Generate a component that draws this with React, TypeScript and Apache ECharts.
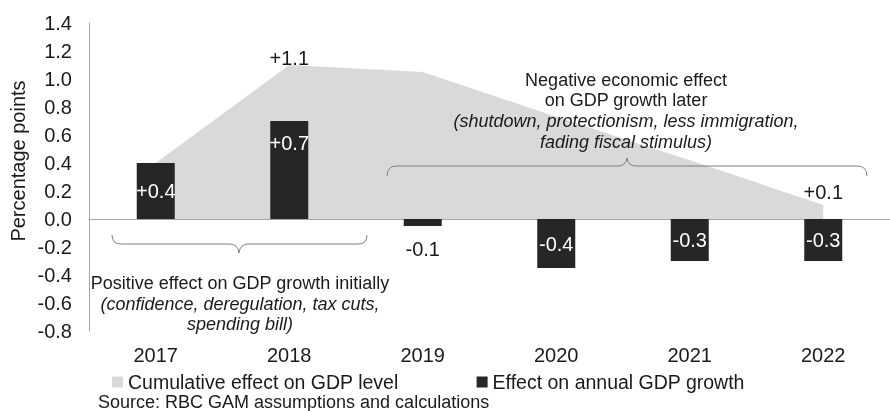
import React, { useEffect, useRef } from 'react';
import * as echarts from 'echarts';

const years = ['2017', '2018', '2019', '2020', '2021', '2022'];
const cumulativeEffect = [0.4, 1.1, 1.05, 0.73, 0.42, 0.1];
const cumulativeLabels = ['', '+1.1', '', '', '', '+0.1'];
const annualEffect = [0.4, 0.7, -0.05, -0.35, -0.3, -0.3];
const annualLabels = ['+0.4', '+0.7', '-0.1', '-0.4', '-0.3', '-0.3'];
const yMin = -0.8;
const yMax = 1.4;
const yStep = 0.2;

const FONT = '"Liberation Sans", Arial, sans-serif';
const TXT = '#1a1a1a';

const leftBraceD =
  'M112,235 Q112,244 121,244 L230,244 Q238,244 239,253 Q240,244 248,244 L358,244 Q367,244 367,235';
const rightBraceD =
  'M387,176 Q387,166 397,166 L618,166 Q626,166 627,158 Q628,166 636,166 L857,166 Q867,166 867,176';

let registered = false;
function registerShapes() {
  if (registered) return;
  echarts.graphic.registerShape('leftBrace', echarts.graphic.extendPath(leftBraceD, {}) as any);
  echarts.graphic.registerShape('rightBrace', echarts.graphic.extendPath(rightBraceD, {}) as any);
  registered = true;
}

export default function App() {
  const ref = useRef<HTMLDivElement>(null);
  useEffect(() => {
    if (!ref.current) return;
    registerShapes();
    const chart = echarts.init(ref.current, undefined, { renderer: 'svg' });

    const barPos: any[] = ['inside', 'insideTop', 'bottom', 'inside', 'inside', 'inside'];
    const barDist = [5, 12, 13, 5, 5, 5];
    const barColor = ['#fff', '#fff', TXT, '#fff', '#fff', '#fff'];
    const areaLabelDist = [0, -3, 0, 0, 0, 3];

    const textEl = (t: string, x: number, y: number, italic = false, size = 18) => ({
      type: 'text',
      x,
      y,
      z: 100,
      silent: true,
      style: {
        text: t,
        fill: TXT,
        font: `${italic ? 'italic ' : ''}${size}px ${FONT}`,
        textAlign: 'center',
        textVerticalAlign: 'middle',
      },
    });

    chart.setOption({
      animation: false,
      textStyle: { fontFamily: FONT, color: TXT },
      grid: { left: 89, top: 23, bottom: 80, width: 810, containLabel: false },
      legend: {
        left: 107,
        top: 367,
        itemWidth: 11,
        itemHeight: 11,
        itemGap: 78,
        icon: 'rect',
        textStyle: { fontSize: 19.5, color: TXT, fontFamily: FONT },
        data: [
          { name: 'Cumulative effect on GDP level', itemStyle: { color: '#d9d9d9' } },
          { name: 'Effect on annual GDP growth', itemStyle: { color: '#262626' } },
        ],
      },
      xAxis: [
        {
          type: 'category',
          data: years,
          axisLine: { onZero: true, lineStyle: { color: '#a6a6a6', width: 1 } },
          axisTick: { show: false },
          axisLabel: { show: false },
        },
        {
          type: 'category',
          data: years,
          position: 'bottom',
          axisLine: { show: false, onZero: false },
          axisTick: { show: false },
          axisLabel: { show: true, fontSize: 20, color: TXT, margin: 14, fontFamily: FONT },
        },
      ],
      yAxis: {
        type: 'value',
        min: yMin,
        max: yMax,
        interval: yStep,
        splitLine: { show: false },
        axisLine: { show: true, lineStyle: { color: '#a6a6a6', width: 1 } },
        axisTick: { show: false },
        axisLabel: {
          fontSize: 20,
          color: TXT,
          margin: 17,
          fontFamily: FONT,
          formatter: (v: number) => v.toFixed(1),
        },
      },
      series: [
        {
          name: 'Cumulative effect on GDP level',
          type: 'line',
          xAxisIndex: 0,
          data: cumulativeEffect.map((v, i) => ({
            value: v,
            label: {
              show: cumulativeLabels[i] !== '',
              position: 'top',
              distance: areaLabelDist[i],
              formatter: () => cumulativeLabels[i],
              fontSize: 20,
              color: TXT,
              fontFamily: FONT,
            },
          })),
          symbol: 'circle',
          symbolSize: 1,
          showSymbol: true,
          lineStyle: { width: 0, color: '#d9d9d9' },
          itemStyle: { color: 'rgba(0,0,0,0)' },
          areaStyle: { color: '#d9d9d9', opacity: 1 },
          z: 1,
        },
        {
          name: 'Effect on annual GDP growth',
          type: 'bar',
          xAxisIndex: 0,
          barWidth: 38,
          itemStyle: { color: '#262626' },
          data: annualEffect.map((v, i) => ({
            value: v,
            label: {
              show: true,
              position: barPos[i],
              distance: barDist[i],
              formatter: () => annualLabels[i],
              fontSize: 20,
              color: barColor[i],
              fontFamily: FONT,
            },
          })),
          z: 3,
        },
      ],
      graphic: [
        {
          type: 'text',
          x: 18,
          y: 161,
          z: 100,
          rotation: Math.PI / 2,
          silent: true,
          style: {
            text: 'Percentage points',
            fill: TXT,
            font: `20px ${FONT}`,
            textAlign: 'center',
            textVerticalAlign: 'middle',
          },
        },
        { type: 'leftBrace', z: 100, silent: true, style: { stroke: '#7f7f7f', fill: 'none', lineWidth: 1 } },
        { type: 'rightBrace', z: 100, silent: true, style: { stroke: '#7f7f7f', fill: 'none', lineWidth: 1 } },
        textEl('Positive effect on GDP growth initially', 240, 283),
        textEl('(confidence, deregulation, tax cuts,', 240, 304, true),
        textEl('spending bill)', 240, 324, true),
        textEl('Negative economic effect', 626, 80),
        textEl('on GDP growth later', 626, 100),
        textEl('(shutdown, protectionism, less immigration,', 626, 121, true),
        textEl('fading fiscal stimulus)', 626, 142, true),
        {
          type: 'text',
          x: 98,
          y: 402,
          z: 100,
          silent: true,
          style: {
            text: 'Source: RBC GAM assumptions and calculations',
            fill: TXT,
            font: `18px ${FONT}`,
            textAlign: 'left',
            textVerticalAlign: 'middle',
          },
        },
      ],
    });
    return () => chart.dispose();
  }, []);
  return (
    <div
      ref={ref}
      style={{ position: 'fixed', left: 0, top: 0, width: 890, height: 411 }}
    />
  );
}
